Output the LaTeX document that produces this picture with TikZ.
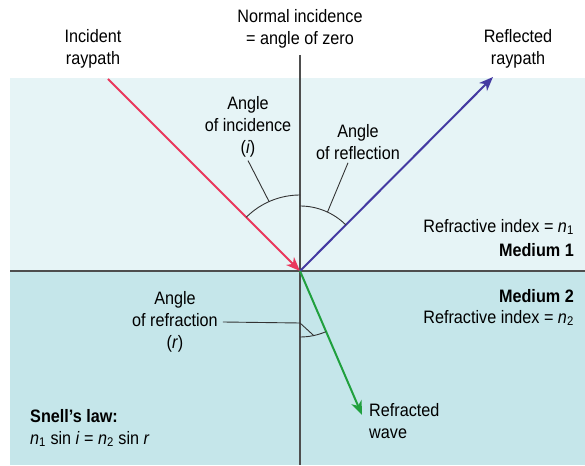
\documentclass[tikz,border=0pt]{standalone}
\usepackage{fontspec}
\setmainfont{Liberation Sans}[FakeStretch=0.9]
\usetikzlibrary{arrows.meta,calc}
\definecolor{medone}{RGB}{230,244,246}
\definecolor{medtwo}{RGB}{197,230,234}
\definecolor{rayred}{RGB}{234,56,92}
\definecolor{rayblue}{RGB}{68,58,162}
\definecolor{raygreen}{RGB}{32,160,62}
\definecolor{linegray}{RGB}{78,78,78}
\begin{document}
\begin{tikzpicture}[x=1pt,y=1pt,
  font=\fontsize{18}{22}\selectfont,
  ray/.style={line width=2pt,-{Stealth[length=14pt,width=11pt,inset=4pt]}},
  leader/.style={line width=0.9pt,black!80},
  lbl/.style={align=center,inner sep=0pt}]
  \useasboundingbox (0,0) rectangle (585,465);
  % the two media
  \fill[medone] (10,194) rectangle (585,387);
  \fill[medtwo] (10,0) rectangle (585,194);
  % interface and normal
  \coordinate (O) at (300,194);
  \draw[linegray,line width=1.6pt] (10,194) -- (585,194);
  \draw[linegray,line width=1.2pt] (300,410) -- (300,0);
  % ray end points
  \coordinate (inc) at (108,386);
  \coordinate (refl) at (493,388);
  \coordinate (refr) at (362,50);
  \draw[ray,rayred] (inc) -- (O);
  \draw[ray,rayblue] (O) -- (refl);
  \draw[ray,raygreen] (O) -- (refr);
  % angle arcs
  \draw[leader] ($(O)+(90:76)$) arc (90:135:76);
  \draw[leader] ($(O)+(90:65)$) arc (90:45:65);
  \draw[leader] ($(O)+(270:66)$) arc (270:293:66);
  % labels
  \node[lbl] (inclbl) at (93,416) {Incident\\raypath};
  \node[lbl] (normlbl) at (300,436) {Normal incidence\\= angle of zero};
  \node[lbl] (refllbl) at (518,416) {Reflected\\raypath};
  \node[lbl] (angi) at (248,338) {Angle\\of incidence\\(\textit{i})};
  \node[lbl] (angrefl) at (358,323) {Angle\\of reflection};
  \node[lbl] (angr) at (175,143) {Angle\\of refraction\\(\textit{r})};
  \node[lbl,anchor=east] (nonelbl) at (574,238) {Refractive index = \textit{n}\textsubscript{1}};
  \node[lbl,anchor=east] (medonelbl) at (574,215) {\bfseries Medium 1};
  \node[lbl,anchor=east] (medtwolbl) at (574,169) {\bfseries Medium 2};
  \node[lbl,anchor=east] (ntwolbl) at (574,147) {Refractive index = \textit{n}\textsubscript{2}};
  \node[lbl,anchor=west,align=left] (snell) at (30,37)
    {\bfseries Snell's law:\\\textit{n}\textsubscript{1} sin \textit{i} = \textit{n}\textsubscript{2} sin \textit{r}};
  \node[lbl,anchor=west,align=left] (wavelbl) at (369,44) {Refracted\\wave};
  % leaders to the arcs
  \draw[leader] ([yshift=-3pt]angi.south) -- ($(O)+(114:76)$);
  \draw[leader] ([xshift=-10pt,yshift=-3pt]angrefl.south) -- ($(O)+(65:65)$);
  \draw[leader] ([xshift=5pt]angr.east) -- (300,142) -- ($(O)+(282:66)$);
\end{tikzpicture}
\end{document}
